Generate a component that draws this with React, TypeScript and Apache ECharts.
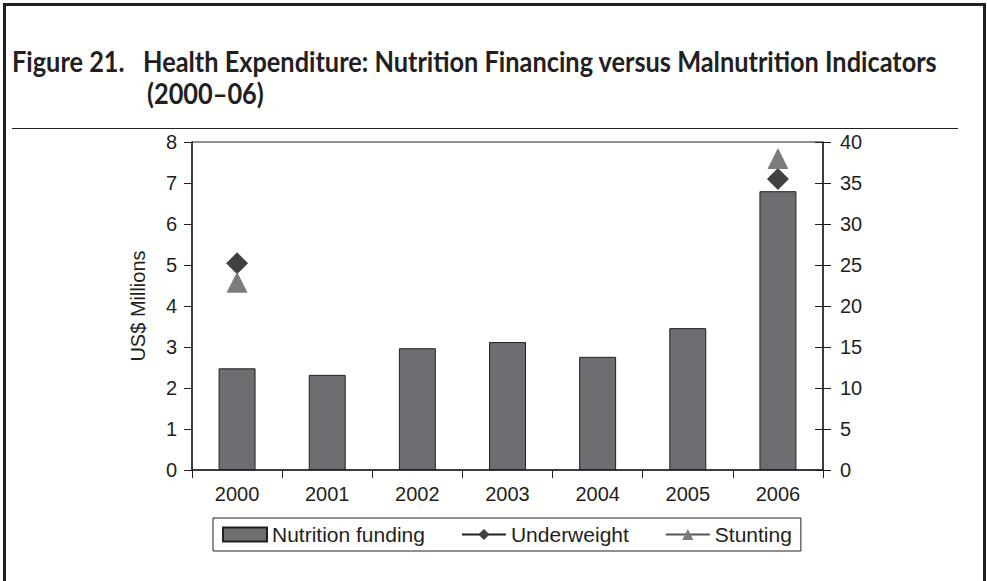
import React, { useEffect, useRef } from "react";
import * as echarts from "echarts";

const years = ["2000", "2001", "2002", "2003", "2004", "2005", "2006"];
const nutritionFunding = [2.48, 2.32, 2.97, 3.12, 2.76, 3.46, 6.8];
const underweight = [25.2, null, null, null, null, null, 35.5];
const stunting = [22.9, null, null, null, null, null, 38.0];
const leftTicks = { min: 0, max: 8, interval: 1 };
const rightTicks = { min: 0, max: 40, interval: 5 };

const INK = "#231f20";
const FONT = "'Liberation Sans', Arial, sans-serif";
const TITLE_FONT = "Lato, 'Open Sans', sans-serif";

export default function App() {
  const ref = useRef<HTMLDivElement>(null);
  useEffect(() => {
    document.body.style.margin = "0";
    const chart = echarts.init(ref.current!, null, { renderer: "svg" });
    const axisLabel = { color: INK, fontSize: 20, fontFamily: FONT };
    chart.setOption({
      animation: false,
      backgroundColor: "#fff",
      grid: {
        left: 192,
        right: 164,
        top: 142,
        bottom: 111,
        show: true,
        borderColor: INK,
        borderWidth: 1,
        containLabel: false,
      },
      legend: {
        left: 213,
        top: 518,
        orient: "horizontal",
        borderColor: INK,
        borderWidth: 1,
        padding: [6, 9, 6, 9],
        itemGap: 36,
        itemWidth: 44,
        itemHeight: 14,
        textStyle: { color: INK, fontSize: 21, fontFamily: FONT },
        data: [
          { name: "Nutrition funding", icon: "rect" },
          { name: "Underweight" },
          { name: "Stunting" },
        ],
      },
      xAxis: {
        type: "category",
        data: years,
        boundaryGap: true,
        axisLine: { lineStyle: { color: INK, width: 1.5 } },
        axisTick: { show: true, length: 8, lineStyle: { color: INK } },
        axisLabel: { ...axisLabel, margin: 14 },
      },
      yAxis: [
        {
          type: "value",
          position: "left",
          ...leftTicks,
          name: "US$ Millions",
          nameLocation: "middle",
          nameGap: 44,
          nameRotate: 90,
          nameTextStyle: { color: INK, fontSize: 20, fontFamily: FONT },
          axisLine: { show: true, lineStyle: { color: INK, width: 1.5 } },
          axisTick: { show: true, length: 8, lineStyle: { color: INK } },
          axisLabel: { ...axisLabel, margin: 15 },
          splitLine: { show: false },
        },
        {
          type: "value",
          position: "right",
          ...rightTicks,
          axisLine: { show: true, lineStyle: { color: INK, width: 1.5 } },
          axisTick: { show: true, length: 8, lineStyle: { color: INK } },
          axisLabel: { ...axisLabel, margin: 17 },
          splitLine: { show: false },
        },
        {
          type: "value",
          position: "right",
          ...rightTicks,
          axisLine: { show: false },
          axisTick: { show: true, inside: true, length: 8, lineStyle: { color: INK } },
          axisLabel: { show: false },
          splitLine: { show: false },
        },
      ],
      series: [
        {
          name: "Nutrition funding",
          type: "bar",
          yAxisIndex: 0,
          data: nutritionFunding,
          barWidth: "41%",
          itemStyle: { color: "#6d6e71", borderColor: INK, borderWidth: 1 },
        },
        {
          name: "Underweight",
          type: "line",
          yAxisIndex: 1,
          data: underweight,
          symbol: "diamond",
          symbolSize: 22,
          connectNulls: false,
          itemStyle: { color: "#414042" },
          lineStyle: { color: INK, width: 1 },
        },
        {
          name: "Stunting",
          type: "line",
          yAxisIndex: 1,
          data: stunting,
          symbol: "triangle",
          symbolSize: 21,
          connectNulls: false,
          itemStyle: { color: "#7a7b7e" },
          lineStyle: { color: "#555", width: 1 },
        },
      ],
      graphic: [
        { type: "line", shape: { x1: 4, y1: 4.5, x2: 985, y2: 4.5 }, style: { stroke: INK, lineWidth: 3 } },
        { type: "line", shape: { x1: 4.5, y1: 3, x2: 4.5, y2: 581 }, style: { stroke: INK, lineWidth: 3 } },
        { type: "line", shape: { x1: 984.5, y1: 3, x2: 984.5, y2: 581 }, style: { stroke: INK, lineWidth: 3 } },
        {
          type: "text",
          x: 12,
          y: 48,
          scaleX: 0.905,
          style: {
            text: "Figure 21.   Health Expenditure: Nutrition Financing versus Malnutrition Indicators",
            fill: INK,
            font: `bold 28px ${TITLE_FONT}`,
          },
        },
        {
          type: "text",
          x: 147,
          y: 80,
          scaleX: 0.905,
          style: { text: "(2000–06)", fill: INK, font: `bold 28px ${TITLE_FONT}` },
        },
        { type: "line", shape: { x1: 12, y1: 128.5, x2: 958, y2: 128.5 }, style: { stroke: INK, lineWidth: 1 } },
      ],
    });
    return () => chart.dispose();
  }, []);
  return <div ref={ref} style={{ width: 987, height: 581 }} />;
}
